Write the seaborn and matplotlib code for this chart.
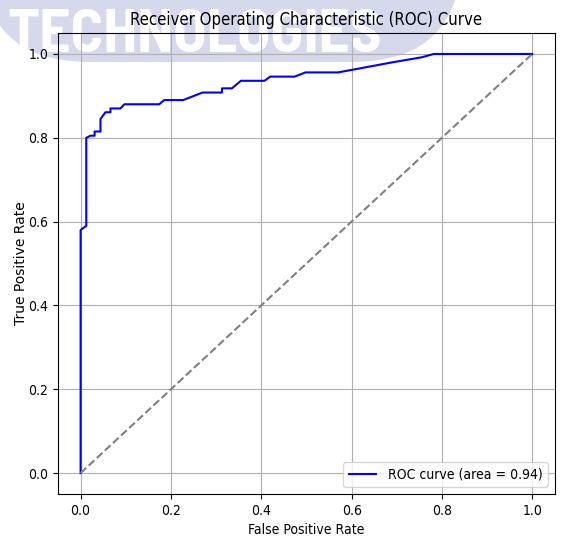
import matplotlib
matplotlib.use("Agg")
import matplotlib.pyplot as plt
import seaborn as sns
from matplotlib.patches import FancyBboxPatch
from matplotlib.transforms import IdentityTransform

fpr = [0.0, 0.0, 0.0125, 0.0125, 0.022, 0.031, 0.031, 0.044, 0.044, 0.055, 0.066, 0.066,
       0.088, 0.097, 0.174, 0.185, 0.227, 0.27, 0.313, 0.313, 0.335, 0.355, 0.407, 0.42,
       0.474, 0.498, 0.57, 0.69, 0.755, 0.782, 1.0]
tpr = [0.0, 0.58, 0.59, 0.80, 0.805, 0.805, 0.815, 0.815, 0.845, 0.861, 0.861, 0.87,
       0.87, 0.88, 0.88, 0.89, 0.89, 0.908, 0.908, 0.918, 0.918, 0.936, 0.936, 0.946,
       0.946, 0.956, 0.956, 0.98, 0.992, 1.0, 1.0]
roc_auc = 0.94

plt.rcParams['font.family'] = ['DejaVu Sans']
plt.rcParams['font.stretch'] = 'condensed'

fig, ax = plt.subplots(figsize=(5.69, 5.37), dpi=100)
fig.subplots_adjust(left=0.102, right=0.975, top=0.9385, bottom=0.08)
ax.set_facecolor('none')

# watermark band behind the axes
band = FancyBboxPatch((-20, 475), 482, 250, boxstyle="round,pad=0,rounding_size=110",
                      transform=IdentityTransform(), facecolor="#d6d9eb", edgecolor="none",
                      zorder=-2)
fig.add_artist(band)
fig.text(7 / 569, 1 - 52 / 537, "TECHNOLOGIES", fontsize=44, color="white",
         family="Barlow Semi Condensed", weight="bold",
         ha="left", va="baseline", zorder=-1)

sns.lineplot(x=fpr, y=tpr, ax=ax, color="blue", lw=1.5, sort=False, estimator=None,
             label=f"ROC curve (area = {roc_auc:.2f})")
sns.lineplot(x=[0, 1], y=[0, 1], ax=ax, color="gray", lw=1.5, linestyle="--")

ax.set_title("Receiver Operating Characteristic (ROC) Curve")
ax.set_xlabel("False Positive Rate")
ax.set_ylabel("True Positive Rate", fontstretch="normal", labelpad=0)
ax.grid(True)
ax.legend(loc="lower right")

fig.savefig("out.png", dpi=100)
